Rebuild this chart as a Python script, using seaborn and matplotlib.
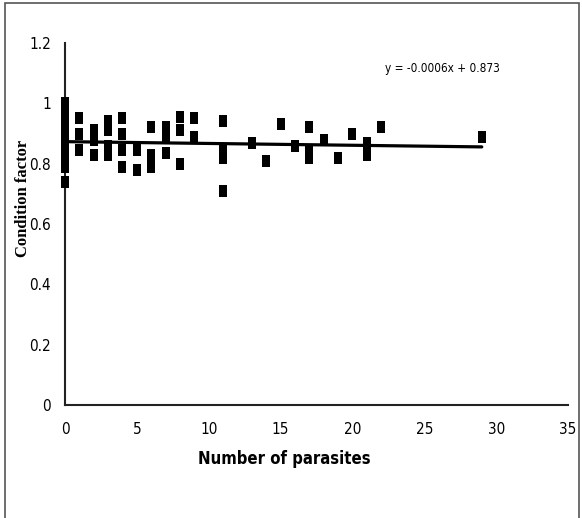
import matplotlib
matplotlib.use("Agg")
import matplotlib.pyplot as plt
import seaborn as sns
import numpy as np
import pandas as pd
from matplotlib.patches import Rectangle

# ---- data ----
parasites = [0, 0, 0, 0, 0, 0, 0, 0, 0,
             1, 1, 1,
             2, 2, 2,
             3, 3, 3, 3,
             4, 4, 4, 4,
             5, 5,
             6, 6, 6,
             7, 7, 7,
             8, 8, 8,
             9, 9,
             11, 11, 11, 11,
             13, 14, 15, 16,
             17, 17, 17,
             18, 19, 20, 21, 21, 22, 29]
condition = [1.00, 0.97, 0.94, 0.91, 0.88, 0.85, 0.82, 0.79, 0.74,
             0.95, 0.90, 0.845,
             0.91, 0.88, 0.83,
             0.94, 0.91, 0.86, 0.83,
             0.95, 0.90, 0.845, 0.79,
             0.845, 0.78,
             0.92, 0.83, 0.79,
             0.92, 0.89, 0.835,
             0.955, 0.91, 0.80,
             0.95, 0.89,
             0.94, 0.85, 0.82, 0.71,
             0.87, 0.81, 0.93, 0.86,
             0.92, 0.84, 0.82,
             0.88, 0.82, 0.90, 0.87, 0.83, 0.92, 0.89]
trend_slope = -0.0006
trend_intercept = 0.873
x_ticks = [0, 5, 10, 15, 20, 25, 30, 35]
y_ticks = [0, 0.2, 0.4, 0.6, 0.8, 1.0, 1.2]
y_tick_labels = ["0", "0.2", "0.4", "0.6", "0.8", "1", "1.2"]
equation = "y = -0.0006x + 0.873"
x_label = "Number of parasites"
y_label = "Condition factor"

sns.set_style("white")
plt.rcParams['font.family'] = ['DejaVu Sans']
plt.rcParams['font.stretch'] = 'condensed'
plt.rcParams['text.color'] = 'black'
plt.rcParams['axes.labelcolor'] = 'black'

fig = plt.figure(figsize=(5.82, 5.18), dpi=100)
ax = fig.add_axes([65/582, 1 - 405/518, (568 - 65)/582, (405 - 43)/518])

df = pd.DataFrame({"x": parasites, "y": condition})
rect = [(-0.32, -0.5), (0.32, -0.5), (0.32, 0.5), (-0.32, 0.5), (-0.32, -0.5)]
sns.scatterplot(data=df, x="x", y="y", marker=rect, s=80, color="black",
                linewidth=0, ax=ax, zorder=3, clip_on=False)

xr = np.array([min(parasites), max(parasites)], dtype=float)
line_df = pd.DataFrame({"x": xr, "y": trend_slope * xr + trend_intercept})
sns.lineplot(data=line_df, x="x", y="y", color="black", linewidth=2.3, ax=ax, zorder=4)

ax.set_xlim(0, 35)
ax.set_ylim(0, 1.2)
ax.set_xticks(x_ticks)
ax.set_xticklabels([str(t) for t in x_ticks])
ax.set_yticks(y_ticks)
ax.set_yticklabels(y_tick_labels)
ax.tick_params(axis='both', direction='out', length=5, width=1.2, color='#333333',
               labelsize=11, labelcolor='black', pad=7)
ax.tick_params(axis='y', pad=5)
for lbl in ax.get_xticklabels() + ax.get_yticklabels():
    lbl.set_fontstretch('condensed')

for side in ["top", "right"]:
    ax.spines[side].set_visible(False)
for side in ["left", "bottom"]:
    ax.spines[side].set_color("#222222")
    ax.spines[side].set_linewidth(1.5)

ax.set_xlabel(x_label, fontsize=12, fontweight='bold',
              fontstretch='condensed', color='black')
ax.xaxis.set_label_coords(0.437, -0.125)
ax.set_ylabel(y_label, fontsize=12, fontweight='bold', color='black',
              family=['Liberation Serif', 'DejaVu Serif'])
ax.yaxis.set_label_coords(-0.068, 0.57)

ax.text(22.3, 1.117, equation, fontsize=8.5, va='center', ha='left',
        fontstretch='condensed')

fig.patches.append(Rectangle((4.5/582, -0.02), (579 - 4.5)/582, 1 - 3/518 + 0.02,
                             transform=fig.transFigure, fill=False,
                             edgecolor='#555555', linewidth=1.2))

fig.savefig("out.png", dpi=100)
